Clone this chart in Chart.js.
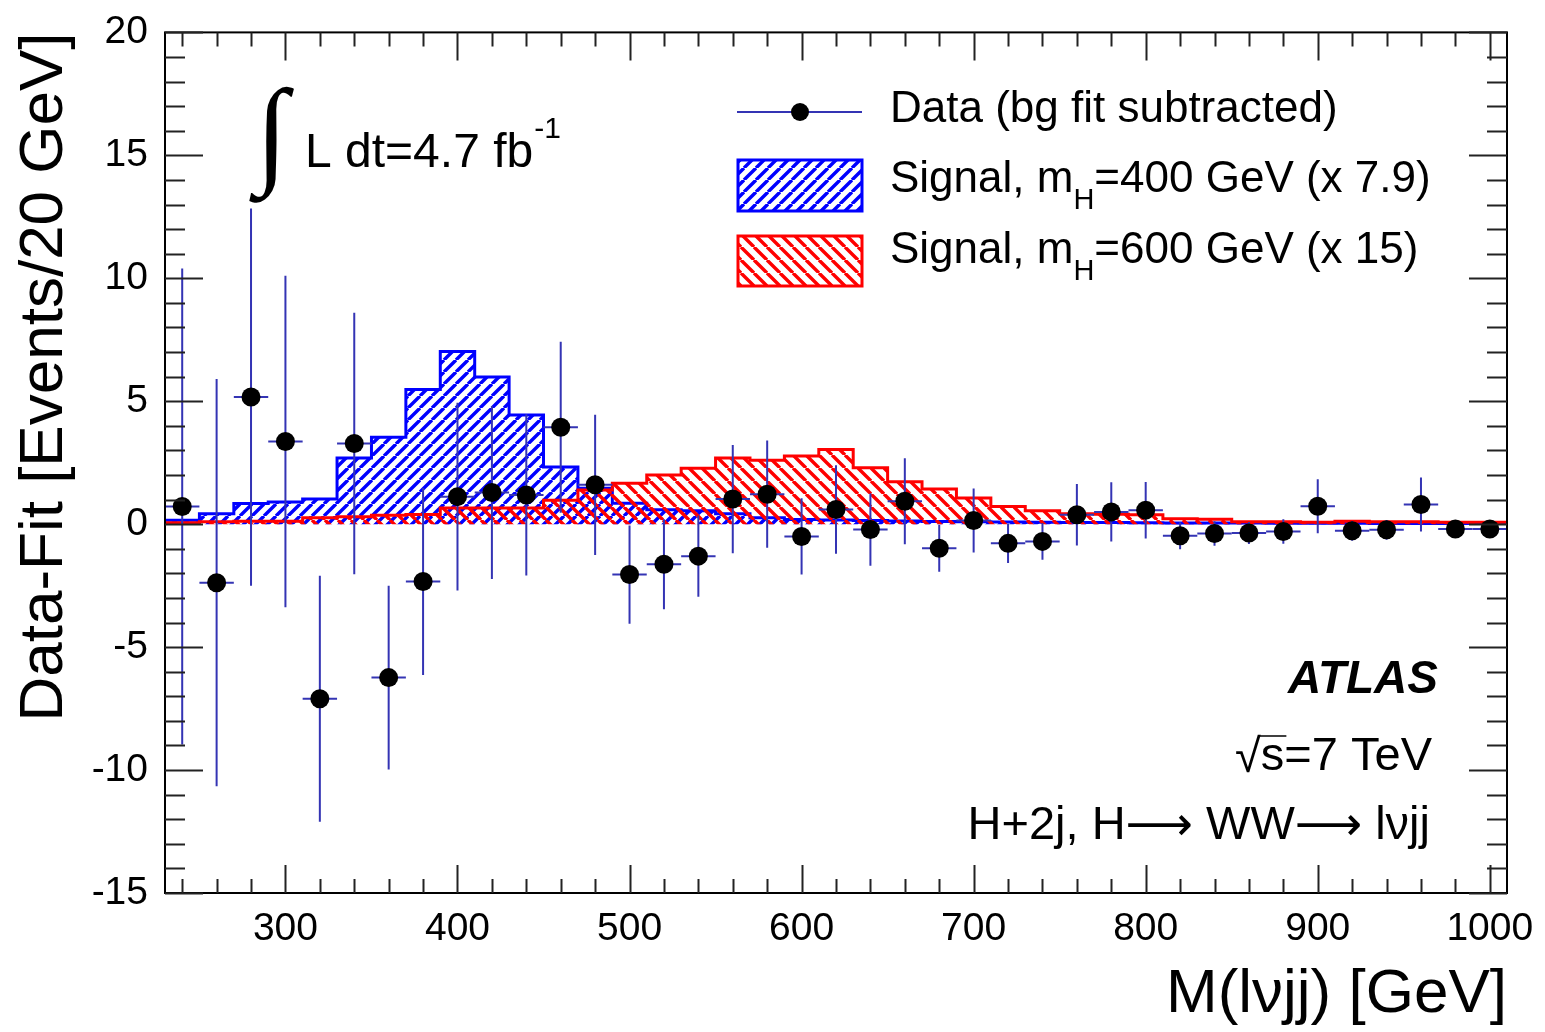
<!DOCTYPE html>
<html>
<head>
<meta charset="utf-8">
<title>Data-Fit vs M(lνjj)</title>
<script src="https://cdn.jsdelivr.net/npm/chart.js@4.4.0/dist/chart.umd.min.js"></script>
<style>
  html, body { margin: 0; padding: 0; background: #fff; }
  #wrap { width: 1545px; height: 1032px; }
</style>
</head>
<body>
<div id="wrap"><canvas id="massChart" width="1545" height="1032"></canvas></div>
<script>
// bin centres of the 20 GeV bins [GeV]
const binCenters = [240, 260, 280, 300, 320, 340, 360, 380, 400, 420, 440, 460, 480, 500, 520, 540, 560, 580, 600, 620,
                    640, 660, 680, 700, 720, 740, 760, 780, 800, 820, 840, 860, 880, 900, 920, 940, 960, 980, 1000];
const binWidth = 20;

// data minus background fit, with errors
const dataValues = [0.72, -2.38, 5.17, 3.36, -7.1, 3.28, -6.24, -2.33, 1.12, 1.29, 1.19, 3.94, 1.6, -2.05, -1.63, -1.3, 1.02, 1.22, -0.5, 0.6,
                    -0.22, 0.93, -0.98, 0.15, -0.78, -0.7, 0.38, 0.5, 0.57, -0.47, -0.38, -0.36, -0.3, 0.73, -0.27, -0.23, 0.8, -0.2, -0.2];
const dataErrors = [9.68, 8.28, 7.67, 6.74, 5.0, 5.32, 3.74, 3.8, 3.82, 3.52, 3.28, 3.48, 2.85, 2.0, 1.83, 1.65, 2.2, 2.18, 1.55, 1.8,
                    1.47, 1.75, 0.95, 1.3, 0.8, 0.75, 1.25, 1.2, 1.15, 0.55, 0.5, 0.45, 0.5, 1.1, 0.4, 0.4, 1.1, 0.35, 0.35];

// signal templates (scaled)
const signal400 = [0.16, 0.42, 0.84, 0.9, 1.02, 2.69, 3.54, 5.48, 7.02, 5.99, 4.44, 2.33, 1.46, 0.85, 0.59, 0.55, 0.42, 0.26, 0.19, 0.17,
                   0.15, 0.13, 0.11, 0.1, 0.09, 0.08, 0.07, 0.07, 0.06, 0.05, 0.05, 0.05, 0.04, 0.04, 0.04, 0.03, 0.03, 0.03, 0.03];
const signal600 = [0.06, 0.1, 0.12, 0.12, 0.26, 0.3, 0.36, 0.39, 0.66, 0.66, 0.66, 0.97, 1.39, 1.66, 2.0, 2.27, 2.69, 2.6, 2.77, 3.04,
                   2.29, 1.73, 1.43, 1.06, 0.72, 0.55, 0.42, 0.4, 0.38, 0.22, 0.2, 0.1, 0.1, 0.08, 0.12, 0.1, 0.1, 0.08, 0.08];

const xRange = [230, 1010];
const yRange = [-15, 20];

const FONT = "'Liberation Sans', Arial, Helvetica, sans-serif";
const ERR_COLOR = 'rgb(52, 52, 180)';
const BLUE = 'rgb(0, 0, 255)';
const RED = 'rgb(255, 0, 0)';

// hatch fill, like ROOT fill styles 3004 / 3005
function makeHatch(color, dir, size) {
    const c = document.createElement('canvas');
    c.width = size;
    c.height = size;
    const g = c.getContext('2d');
    g.strokeStyle = color;
    g.lineWidth = 3.4;
    g.beginPath();
    for (let k = -1; k <= 1; k++) {
        if (dir === '/') {
            g.moveTo(k * size, size);
            g.lineTo(k * size + size, 0);
        } else {
            g.moveTo(k * size, 0);
            g.lineTo(k * size + size, size);
        }
    }
    g.stroke();
    return g.createPattern(c, 'repeat');
}
const blueHatch = makeHatch(BLUE, '/', 12);
const redHatch = makeHatch(RED, '\\', 13);

// step histogram points: one point per low edge, plus the last high edge
function histPoints(vals) {
    const pts = vals.map((v, i) => ({ x: binCenters[i] - binWidth / 2, y: v }));
    pts.push({ x: binCenters[binCenters.length - 1] + binWidth / 2, y: vals[vals.length - 1] });
    return pts;
}

function textWithSub(ctx, x, y, parts) {
    // parts: [text, sub, text]
    ctx.textAlign = 'left';
    ctx.textBaseline = 'middle';
    ctx.font = '44px ' + FONT;
    ctx.fillText(parts[0], x, y);
    x += ctx.measureText(parts[0]).width;
    ctx.font = '29px ' + FONT;
    ctx.fillText(parts[1], x, y + 21);
    x += ctx.measureText(parts[1]).width;
    ctx.font = '44px ' + FONT;
    ctx.fillText(parts[2], x, y);
}

// right-aligned run of pieces, each with its own font
function drawRunRight(ctx, xRight, y, pieces) {
    let total = 0;
    pieces.forEach(p => { ctx.font = p.font; p.w = ctx.measureText(p.text).width; total += p.w; });
    let x = xRight - total;
    ctx.textAlign = 'left';
    pieces.forEach(p => { ctx.font = p.font; ctx.fillText(p.text, x, y + (p.dy || 0)); x += p.w; });
}

const decorPlugin = {
    id: 'atlasDecor',
    beforeDatasetDraw(chart, args) {
        if (chart.data.datasets[args.index].label !== 'Data (bg fit subtracted)') return;
        const { ctx, scales: { x, y } } = chart;
        ctx.save();
        ctx.strokeStyle = ERR_COLOR;
        ctx.lineWidth = 2;
        binCenters.forEach((c, i) => {
            const px = x.getPixelForValue(c);
            const py = y.getPixelForValue(dataValues[i]);
            ctx.beginPath();
            ctx.moveTo(px, y.getPixelForValue(dataValues[i] + dataErrors[i]));
            ctx.lineTo(px, y.getPixelForValue(dataValues[i] - dataErrors[i]));
            ctx.moveTo(x.getPixelForValue(c - binWidth / 2), py);
            ctx.lineTo(x.getPixelForValue(c + binWidth / 2), py);
            ctx.stroke();
        });
        ctx.restore();
    },
    afterDraw(chart) {
        const { ctx, chartArea: { left, right, top, bottom }, scales: { x, y } } = chart;
        ctx.save();

        // frame
        ctx.strokeStyle = '#000';
        ctx.lineWidth = 2;
        ctx.strokeRect(left, top, right - left, bottom - top);

        // inward ticks on all four sides
        ctx.strokeStyle = '#222';
        ctx.lineWidth = 2;
        ctx.beginPath();
        for (let v = Math.ceil(x.min / 20) * 20; v <= x.max; v += 20) {
            const px = Math.round(x.getPixelForValue(v)) + 0.5;
            const len = v % 100 === 0 ? 28 : 14;
            ctx.moveTo(px, bottom); ctx.lineTo(px, bottom - len);
            ctx.moveTo(px, top); ctx.lineTo(px, top + len);
        }
        for (let v = y.min; v <= y.max; v += 1) {
            const py = Math.round(y.getPixelForValue(v)) + 0.5;
            const len = v % 5 === 0 ? 38 : 20;
            ctx.moveTo(left, py); ctx.lineTo(left + len, py);
            ctx.moveTo(right, py); ctx.lineTo(right - len, py);
        }
        ctx.stroke();

        // legend
        ctx.strokeStyle = ERR_COLOR;
        ctx.lineWidth = 2;
        ctx.beginPath();
        ctx.moveTo(737, 112); ctx.lineTo(862, 112);
        ctx.stroke();
        ctx.fillStyle = '#000';
        ctx.beginPath();
        ctx.arc(800, 112, 9, 0, Math.PI * 2);
        ctx.fill();

        ctx.lineWidth = 3;
        ctx.fillStyle = blueHatch;
        ctx.fillRect(738, 160, 124, 51);
        ctx.strokeStyle = BLUE;
        ctx.strokeRect(738, 160, 124, 51);
        ctx.fillStyle = redHatch;
        ctx.fillRect(738, 236, 124, 50);
        ctx.strokeStyle = RED;
        ctx.strokeRect(738, 236, 124, 50);

        ctx.fillStyle = '#000';
        ctx.font = '44px ' + FONT;
        ctx.textAlign = 'left';
        ctx.textBaseline = 'middle';
        ctx.fillText('Data (bg fit subtracted)', 890, 110);
        textWithSub(ctx, 890, 180, ['Signal, m', 'H', '=400 GeV (x 7.9)']);
        textWithSub(ctx, 890, 251, ['Signal, m', 'H', '=600 GeV (x 15)']);

        // luminosity
        ctx.font = '118px "Liberation Serif", "DejaVu Serif", serif';
        ctx.textAlign = 'center';
        ctx.textBaseline = 'middle';
        ctx.fillText('∫', 272, 140);
        ctx.font = '48px ' + FONT;
        ctx.textAlign = 'left';
        ctx.textBaseline = 'alphabetic';
        ctx.fillText('L dt=4.7 fb', 305, 167);
        const lw = ctx.measureText('L dt=4.7 fb').width;
        ctx.font = '30px ' + FONT;
        ctx.fillText('-1', 305 + lw + 1, 138);

        // ATLAS label block
        ctx.textAlign = 'right';
        ctx.textBaseline = 'middle';
        ctx.font = 'italic bold 46px ' + FONT;
        ctx.fillText('ATLAS', 1438, 680);

        ctx.font = '47px ' + FONT;
        const rest = 's=7 TeV';
        ctx.fillText(rest, 1432, 757);
        const rw = ctx.measureText(rest).width;
        const sw = ctx.measureText('s').width;
        const sx = 1432 - rw;
        ctx.fillText('√', sx, 759);
        ctx.strokeStyle = '#000';
        ctx.lineWidth = 1.5;
        ctx.beginPath();
        ctx.moveTo(sx - 2, 736); ctx.lineTo(sx + sw + 2, 736);
        ctx.stroke();

        const f47 = '47px ' + FONT;
        const fArrow = '47px "DejaVu Sans", sans-serif';
        drawRunRight(ctx, 1430, 826, [
            { text: 'H+2j, H', font: f47 },
            { text: '⟶', font: fArrow, dy: 2 },
            { text: ' WW', font: f47 },
            { text: '⟶', font: fArrow, dy: 2 },
            { text: ' lνjj', font: f47 }
        ]);

        ctx.restore();
    }
};

const ctx = document.getElementById('massChart').getContext('2d');
const chart = new Chart(ctx, {
    type: 'line',
    data: {
        datasets: [
            {
                label: 'Data (bg fit subtracted)',
                type: 'scatter',
                data: binCenters.map((c, i) => ({ x: c, y: dataValues[i] })),
                pointRadius: 9.5,
                pointHoverRadius: 9.5,
                pointBackgroundColor: '#000',
                pointBorderWidth: 0,
                showLine: false,
                order: 0
            },
            {
                label: 'Signal, mH=600 GeV (x 15)',
                data: histPoints(signal600),
                stepped: 'before',
                borderColor: RED,
                borderWidth: 3,
                backgroundColor: redHatch,
                fill: 'origin',
                pointRadius: 0,
                order: 1
            },
            {
                label: 'Signal, mH=400 GeV (x 7.9)',
                data: histPoints(signal400),
                stepped: 'before',
                borderColor: BLUE,
                borderWidth: 3,
                backgroundColor: blueHatch,
                fill: 'origin',
                pointRadius: 0,
                order: 2
            }
        ]
    },
    options: {
        responsive: false,
        animation: false,
        layout: { padding: { left: 0, top: 22, right: 38, bottom: 0 } },
        plugins: {
            legend: { display: false },
            tooltip: { enabled: false }
        },
        scales: {
            x: {
                type: 'linear',
                min: xRange[0],
                max: xRange[1],
                grid: { display: false },
                border: { display: false },
                ticks: {
                    stepSize: 100,
                    includeBounds: false,
                    padding: 5,
                    color: '#000',
                    maxRotation: 0,
                    font: { family: FONT, size: 39 },
                    callback: v => String(v)
                },
                title: {
                    display: true,
                    text: 'M(lνjj) [GeV]',
                    align: 'end',
                    color: '#000',
                    padding: { top: 0, bottom: 0 },
                    font: { family: FONT, size: 62 }
                },
                afterFit(scale) { scale.height = 139; }
            },
            y: {
                min: yRange[0],
                max: yRange[1],
                grid: { display: false },
                border: { display: false },
                ticks: {
                    stepSize: 5,
                    includeBounds: false,
                    padding: 9,
                    color: '#000',
                    font: { family: FONT, size: 39 }
                },
                title: {
                    display: true,
                    text: 'Data-Fit [Events/20 GeV]',
                    align: 'end',
                    color: '#000',
                    padding: { top: 8, bottom: 0 },
                    font: { family: FONT, size: 62 }
                },
                afterFit(scale) { scale.width = 165; }
            }
        }
    },
    plugins: [decorPlugin]
});
</script>
</body>
</html>
